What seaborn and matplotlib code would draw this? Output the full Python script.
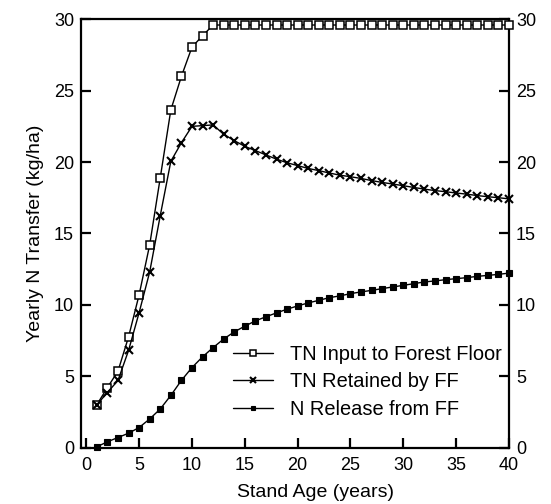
import matplotlib
matplotlib.use("Agg")
import matplotlib.pyplot as plt
import seaborn as sns
import numpy as np

stand_age = list(range(1, 41))

tn_input = [3.0, 4.2, 5.35, 7.75, 10.7, 14.2, 18.9, 23.65, 26.0, 28.05, 28.85, 29.6,
            29.6, 29.6, 29.6, 29.6, 29.6, 29.6, 29.6, 29.6, 29.6, 29.6, 29.6, 29.6,
            29.6, 29.6, 29.6, 29.6, 29.6, 29.6, 29.6, 29.6, 29.6, 29.6, 29.6, 29.6,
            29.6, 29.6, 29.6, 29.6]

tn_retained = [3.0, 3.85, 4.7, 6.8, 9.45, 12.3, 16.25, 20.05, 21.35, 22.5, 22.55, 22.6,
               21.95, 21.5, 21.1, 20.8, 20.5, 20.2, 19.95, 19.75, 19.55, 19.4, 19.23, 19.08,
               18.97, 18.85, 18.7, 18.57, 18.46, 18.34, 18.22, 18.1, 18.0, 17.92, 17.83, 17.75,
               17.65, 17.57, 17.5, 17.42]

n_release = [0.05, 0.4, 0.7, 1.0, 1.4, 2.0, 2.7, 3.65, 4.7, 5.6, 6.35, 7.0,
             7.6, 8.1, 8.5, 8.87, 9.16, 9.43, 9.69, 9.92, 10.13, 10.31, 10.5, 10.62,
             10.78, 10.9, 11.01, 11.13, 11.25, 11.36, 11.48, 11.6, 11.67, 11.76, 11.83, 11.9,
             11.99, 12.06, 12.13, 12.22]

series_labels = ["TN Input to Forest Floor", "TN Retained by FF", "N Release from FF"]
x_ticks = [0, 5, 10, 15, 20, 25, 30, 35, 40]
y_ticks = [0, 5, 10, 15, 20, 25, 30]

sns.set_style("ticks")
plt.rcParams["font.family"] = ["Liberation Sans", "DejaVu Sans"]

fig = plt.figure(figsize=(5.51, 5.04), dpi=100)
ax = fig.add_axes([0.147, 0.1121, 0.7768, 0.8496])

sns.lineplot(x=stand_age, y=tn_input, ax=ax, color="black", linewidth=1.0,
             marker="s", markersize=6.0, markerfacecolor="white",
             markeredgecolor="black", markeredgewidth=1.1,
             label=series_labels[0], clip_on=False, zorder=3)
sns.lineplot(x=stand_age, y=tn_retained, ax=ax, color="black", linewidth=1.0,
             marker="x", markersize=5.5, markeredgecolor="black",
             markeredgewidth=1.5, label=series_labels[1], clip_on=False, zorder=3)
sns.lineplot(x=stand_age, y=n_release, ax=ax, color="black", linewidth=1.0,
             marker="s", markersize=5.0, markerfacecolor="black",
             markeredgecolor="black", markeredgewidth=0.8,
             label=series_labels[2], clip_on=False, zorder=3)

ax.set_xlim(-0.5, 40.0)
ax.set_ylim(0, 30)
ax.set_xticks(x_ticks)
ax.set_yticks(y_ticks)

for s in ax.spines.values():
    s.set_linewidth(1.6)
    s.set_color("black")

ax.tick_params(axis="x", direction="in", length=7, width=1.6, top=False,
               labelsize=13, pad=7, colors="black")
ax.tick_params(axis="y", direction="in", length=7, width=1.6, left=True, right=True,
               labelright=True, labelsize=13, pad=5, colors="black")

ax.set_xlabel("Stand Age (years)", fontsize=14, labelpad=7, color="black", x=0.547)
ax.set_ylabel("Yearly N Transfer (kg/ha)", fontsize=14, labelpad=7, color="black")

leg = ax.legend(loc="upper left", bbox_to_anchor=(0.355, 0.24), frameon=False,
                fontsize=14.4, handlelength=2.0, handletextpad=0.85,
                labelspacing=0.42, borderpad=0, borderaxespad=0, markerscale=0.7)
for t in leg.get_texts():
    t.set_color("black")

fig.savefig("out.png", dpi=100)
